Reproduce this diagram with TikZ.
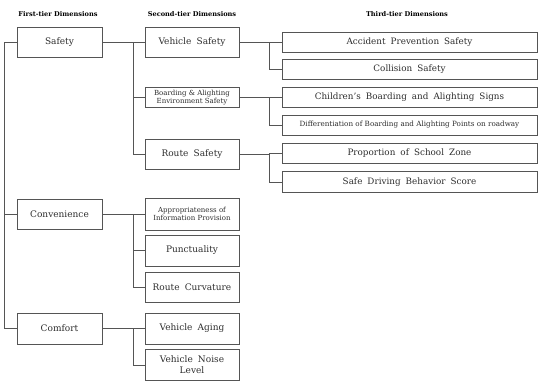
\documentclass[tikz,border=0pt]{standalone}
\usepackage{fontspec}
\setmainfont{DejaVu Serif}[WordSpace=1.8]
\newfontfamily\headfont{DejaVu Serif}
\usetikzlibrary{positioning}
\definecolor{colorLine}{RGB}{85, 85, 85}
\definecolor{colorText}{RGB}{45, 45, 45}
\tikzstyle{header} = [font=\headfont\fontsize{6.6}{8}\selectfont\bfseries, text=black]
\tikzstyle{tierOne} = [rectangle, minimum width=85pt, minimum height=30pt, text centered, draw=colorLine, text=colorText, font=\fontsize{9}{10}\selectfont]
\tikzstyle{tierTwo} = [rectangle, minimum width=94pt, minimum height=30pt, text centered, align=center, draw=colorLine, text=colorText, font=\fontsize{9}{11}\selectfont]
\tikzstyle{tierTwoSmall} = [tierTwo, inner sep=1pt, font=\headfont\fontsize{7}{8.5}\selectfont]
\tikzstyle{tierThree} = [rectangle, minimum width=255pt, minimum height=20pt, text centered, draw=colorLine, text=colorText, font=\fontsize{8.8}{10}\selectfont]
\tikzstyle{link} = [draw=colorLine, line width=0.8pt]

\begin{document}
\begin{tikzpicture}[x=1pt, y=-1pt, line width=0.8pt]

	\useasboundingbox (0,0) rectangle (538,381);

	% headers
	\node (hFirst)[header] at (58,14) {First-tier Dimensions};
	\node (hSecond)[header] at (192,14) {Second-tier Dimensions};
	\node (hThird)[header] at (407,14) {Third-tier Dimensions};

	% first tier
	\node (safety)[tierOne] at (59.5,42) {Safety};
	\node (convenience)[tierOne] at (59.5,214) {Convenience};
	\node (comfort)[tierOne, minimum height=31pt] at (59.5,328.5) {Comfort};

	% second tier
	\node (vehSafety)[tierTwo] at (192,42) {Vehicle Safety};
	\node (boarding)[tierTwoSmall, minimum height=20pt] at (192,97.5) {Boarding \& Alighting\\Environment Safety};
	\node (routeSafety)[tierTwo] at (192,154) {Route Safety};
	\node (infoProv)[tierTwoSmall, minimum height=32pt] at (192,214) {Appropriateness of\\Information Provision};
	\node (punctuality)[tierTwo, minimum height=31pt] at (192,250.5) {Punctuality};
	\node (routeCurv)[tierTwo] at (192,287) {Route Curvature};
	\node (vehAging)[tierTwo, minimum height=31pt] at (192,328.5) {Vehicle Aging};
	\node (vehNoise)[tierTwo, minimum height=31pt] at (192,365) {Vehicle Noise\\Level};

	% third tier
	\node (accPrev)[tierThree] at (409.5,42) {Accident Prevention Safety};
	\node (collision)[tierThree] at (409.5,69) {Collision Safety};
	\node (childSigns)[tierThree] at (409.5,97) {Children's Boarding and Alighting Signs};
	\node (diffPoints)[tierThree, font=\headfont\fontsize{7.2}{8}\selectfont] at (409.5,125) {Differentiation of Boarding and Alighting Points on roadway};
	\node (schoolZone)[tierThree] at (409.5,153.5) {Proportion of School Zone};
	\node (safeDriving)[tierThree, minimum height=21pt] at (409.5,182) {Safe Driving Behavior Score};

	% trunk lines
	\coordinate (trunkA) at (4,0);
	\coordinate (trunkB) at (133,0);
	\coordinate (trunkC) at (269,0);

	% lines, first tier
	\draw[link] (safety.west) -- (safety.west -| trunkA) |- (comfort.west);
	\draw[link] (convenience.west) -- (convenience.west -| trunkA);

	% lines, second tier
	\draw[link] (safety.east) -- (vehSafety.west);
	\draw[link] (vehSafety.west -| trunkB) |- (routeSafety.west);
	\draw[link] (boarding.west) -- (boarding.west -| trunkB);
	\draw[link] (convenience.east) -- (infoProv.west);
	\draw[link] (infoProv.west -| trunkB) |- (routeCurv.west);
	\draw[link] (punctuality.west) -- (punctuality.west -| trunkB);
	\draw[link] (comfort.east) -- (vehAging.west);
	\draw[link] (vehAging.west -| trunkB) |- (vehNoise.west);

	% lines, third tier
	\draw[link] (vehSafety.east) -- (accPrev.west);
	\draw[link] (accPrev.west -| trunkC) |- (collision.west);
	\draw[link] (boarding.east) -- (boarding.east -| trunkC) |- (diffPoints.west);
	\draw[link] (childSigns.west) -- (childSigns.west -| trunkC);
	\draw[link] (routeSafety.east) -- (routeSafety.east -| trunkC) |- (safeDriving.west);
	\draw[link] (schoolZone.west) -- (schoolZone.west -| trunkC);

\end{tikzpicture}
\end{document}
